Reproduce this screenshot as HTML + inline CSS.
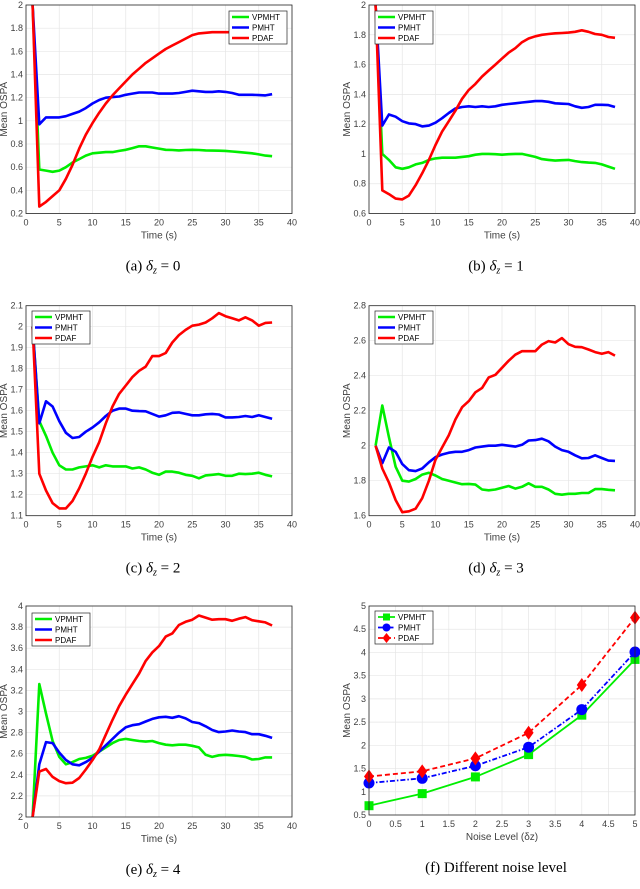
<!DOCTYPE html>
<html><head><meta charset="utf-8"><style>
body{margin:0;background:#fff}
svg{display:block}
text{font-family:"Liberation Sans",sans-serif}
.cap{font-family:"Liberation Serif",serif;font-size:15px;fill:#000}
</style></head><body>
<svg id="fig" width="640" height="889" viewBox="0 0 640 889" xmlns="http://www.w3.org/2000/svg"></svg>
<script>
const T=[1,2,3,4,5,6,7,8,9,10,11,12,13,14,15,16,17,18,19,20,21,22,23,24,25,26,27,28,29,30,31,32,33,34,35,36,37];
const aV=[2.0,0.58,0.57,0.56,0.57,0.6,0.64,0.67,0.7,0.72,0.725,0.73,0.73,0.74,0.75,0.765,0.78,0.78,0.77,0.76,0.75,0.748,0.745,0.748,0.75,0.748,0.745,0.743,0.742,0.74,0.735,0.73,0.725,0.72,0.71,0.70,0.695];
const aP=[2.0,0.97,1.03,1.03,1.03,1.04,1.06,1.08,1.11,1.15,1.18,1.2,1.205,1.21,1.225,1.235,1.245,1.245,1.245,1.235,1.235,1.235,1.24,1.25,1.26,1.255,1.25,1.25,1.255,1.25,1.24,1.225,1.225,1.225,1.222,1.22,1.23];
const aD=[2.0,0.26,0.3,0.35,0.4,0.5,0.62,0.76,0.88,0.98,1.07,1.15,1.22,1.28,1.34,1.4,1.45,1.5,1.54,1.58,1.62,1.65,1.68,1.71,1.74,1.755,1.76,1.765,1.765,1.765,1.765,1.765,1.767,1.768,1.769,1.77,1.77];
const bV=[2.0,1.0,0.96,0.91,0.9,0.91,0.93,0.94,0.96,0.97,0.975,0.975,0.975,0.98,0.985,0.995,1.0,1.0,0.998,0.995,0.998,1.0,1.0,0.99,0.98,0.965,0.96,0.955,0.958,0.96,0.952,0.945,0.942,0.94,0.93,0.915,0.9];
const bP=[2.0,1.19,1.265,1.25,1.22,1.205,1.2,1.185,1.19,1.21,1.24,1.275,1.305,1.315,1.32,1.315,1.32,1.315,1.32,1.33,1.335,1.34,1.345,1.35,1.355,1.355,1.35,1.34,1.337,1.335,1.32,1.31,1.315,1.33,1.33,1.328,1.315];
const bD=[2.0,0.755,0.73,0.7,0.695,0.72,0.79,0.87,0.96,1.06,1.15,1.22,1.29,1.37,1.43,1.47,1.52,1.56,1.6,1.64,1.68,1.71,1.75,1.775,1.79,1.8,1.805,1.81,1.812,1.815,1.82,1.83,1.82,1.805,1.8,1.785,1.78];
const cV=[2.0,1.55,1.48,1.4,1.34,1.32,1.32,1.33,1.335,1.34,1.33,1.34,1.335,1.335,1.335,1.325,1.33,1.32,1.305,1.295,1.31,1.31,1.305,1.295,1.29,1.278,1.292,1.295,1.298,1.29,1.29,1.3,1.298,1.3,1.305,1.295,1.287];
const cP=[2.0,1.54,1.645,1.62,1.55,1.495,1.47,1.475,1.5,1.52,1.545,1.575,1.6,1.61,1.61,1.6,1.598,1.597,1.585,1.572,1.578,1.59,1.592,1.585,1.578,1.578,1.583,1.585,1.582,1.568,1.568,1.57,1.575,1.57,1.578,1.57,1.562];
const cD=[2.0,1.3,1.22,1.16,1.135,1.135,1.17,1.23,1.3,1.38,1.45,1.54,1.62,1.68,1.72,1.76,1.79,1.81,1.86,1.86,1.875,1.925,1.96,1.985,2.005,2.01,2.02,2.04,2.065,2.05,2.04,2.03,2.045,2.03,2.005,2.018,2.02];
const dV=[2.0,2.23,2.05,1.88,1.8,1.795,1.81,1.835,1.845,1.83,1.81,1.8,1.79,1.78,1.782,1.778,1.75,1.745,1.75,1.76,1.77,1.755,1.765,1.785,1.765,1.765,1.75,1.725,1.72,1.725,1.725,1.73,1.73,1.752,1.752,1.748,1.745];
const dP=[2.0,1.9,1.99,1.965,1.895,1.86,1.855,1.87,1.905,1.935,1.95,1.96,1.965,1.965,1.975,1.99,1.995,2.0,2.0,2.005,2.0,1.995,2.005,2.03,2.032,2.04,2.025,1.995,1.975,1.965,1.945,1.928,1.93,1.945,1.93,1.915,1.913];
const dD=[2.0,1.87,1.79,1.69,1.62,1.625,1.64,1.7,1.8,1.92,1.99,2.06,2.15,2.22,2.255,2.305,2.33,2.39,2.405,2.445,2.485,2.52,2.54,2.54,2.54,2.578,2.598,2.59,2.615,2.58,2.565,2.563,2.55,2.535,2.525,2.535,2.515];
const eV=[2.0,3.26,2.98,2.72,2.57,2.5,2.52,2.55,2.56,2.58,2.62,2.66,2.7,2.73,2.74,2.73,2.72,2.715,2.72,2.7,2.685,2.68,2.685,2.685,2.675,2.66,2.59,2.57,2.585,2.59,2.585,2.578,2.57,2.545,2.55,2.565,2.565];
const eP=[2.0,2.5,2.71,2.7,2.61,2.54,2.5,2.49,2.52,2.56,2.62,2.68,2.74,2.8,2.85,2.87,2.88,2.905,2.93,2.945,2.95,2.94,2.955,2.935,2.9,2.89,2.86,2.825,2.805,2.81,2.82,2.81,2.805,2.785,2.785,2.77,2.75];
const eD=[2.0,2.43,2.455,2.38,2.34,2.32,2.325,2.37,2.45,2.54,2.64,2.78,2.92,3.05,3.16,3.26,3.36,3.48,3.56,3.62,3.71,3.74,3.82,3.85,3.87,3.91,3.89,3.87,3.875,3.875,3.86,3.88,3.895,3.865,3.855,3.845,3.815];
const fX=[0,1,2,3,4,5];
const fV=[0.7,0.96,1.32,1.8,2.65,3.85];
const fP=[1.19,1.29,1.56,1.96,2.77,4.01];
const fD=[1.33,1.44,1.72,2.27,3.3,4.75];
const names=["VPMHT","PMHT","PDAF"];

const NS="http://www.w3.org/2000/svg";
const svg=document.getElementById('fig');
function mk(tag,attrs,parent,txt){const e=document.createElementNS(NS,tag);for(const k in attrs)e.setAttribute(k,attrs[k]);if(txt!==undefined)e.textContent=txt;(parent||svg).appendChild(e);return e;}
function fmt(v){return String(+v.toFixed(2));}

function panel(id,L,R,Tp,B,xmin,xmax,xstep,ymin,ymax,ystep,series,xlab,cap,legX,legY,markers){
  const g=mk('g',{},svg);
  
  
  const sx=v=>L+(v-xmin)/(xmax-xmin)*(R-L);
  const sy=v=>B-(v-ymin)/(ymax-ymin)*(B-Tp);
  mk('rect',{x:L,y:Tp,width:R-L,height:B-Tp,fill:'#fff'},g);
  const nx=Math.round((xmax-xmin)/xstep), ny=Math.round((ymax-ymin)/ystep);
  for(let i=0;i<=nx;i++){const v=xmin+i*xstep,x=sx(v);
    mk('line',{x1:x,x2:x,y1:Tp,y2:B,stroke:'#e6e6e6','stroke-width':0.7},g);
    const t=mk('text',{x:x,y:B+12,'font-size':9,fill:'#404040','text-anchor':'middle'},g,fmt(v));
    }
  for(let i=0;i<=ny;i++){const v=ymin+i*ystep,y=sy(v);
    mk('line',{x1:L,x2:R,y1:y,y2:y,stroke:'#e6e6e6','stroke-width':0.7},g);
    const t=mk('text',{x:L-3,y:y+3,'font-size':9,fill:'#404040','text-anchor':'end'},g,fmt(v));
    }
  const cid='clip-'+id;
  const cp=mk('clipPath',{id:cid},g);mk('rect',{x:L,y:Tp,width:R-L,height:B-Tp},cp);
  const cols=['#00ee00','#0000ff','#ff0000'];
  const dash=markers?['','5,2,1.5,2','5,3']:['','',''];
  series.forEach((s,k)=>{
    const d=s.y.map((v,i)=>(i?'L':'M')+sx(s.x[i]).toFixed(1)+','+sy(v).toFixed(1)).join(' ');
    const p=mk('path',{d:d,fill:'none',stroke:cols[k],'stroke-width':markers?1.8:2.6,'stroke-linejoin':'round','stroke-dasharray':dash[k],'clip-path':'url(#'+cid+')'},g);
    
    
    if(markers){s.y.forEach((v,i)=>{const x=sx(s.x[i]),y=sy(v);let m;
      if(k==0)m=mk('rect',{x:x-4.5,y:y-4.5,width:9,height:9,fill:cols[k]},g);
      else if(k==1)m=mk('circle',{cx:x,cy:y,r:5.5,fill:cols[k]},g);
      else m=mk('path',{d:`M${x},${y-7}L${x+5},${y}L${x},${y+7}L${x-5},${y}Z`,fill:cols[k]},g);
      
      });}
  });
  mk('rect',{x:L,y:Tp,width:R-L,height:B-Tp,fill:'none',stroke:'#262626','stroke-width':0.8},g);
  const lg=mk('g',{},g);
  
  
  mk('rect',{x:legX,y:legY,width:58,height:33,fill:'#fff',stroke:'#262626','stroke-width':0.7},lg);
  names.forEach((n,k)=>{const y=legY+6+k*10.5;
    mk('line',{x1:legX+3,x2:legX+20,y1:y,y2:y,stroke:cols[k],'stroke-width':markers?1.8:2.6,'stroke-dasharray':dash[k]},lg);
    if(markers){const x=legX+11.5;
      if(k==0)mk('rect',{x:x-3.5,y:y-3.5,width:7,height:7,fill:cols[k]},lg);
      else if(k==1)mk('circle',{cx:x,cy:y,r:4,fill:cols[k]},lg);
      else mk('path',{d:`M${x},${y-5}L${x+4},${y}L${x},${y+5}L${x-4},${y}Z`,fill:cols[k]},lg);}
    const t=mk('text',{x:legX+23,y:y+3,'font-size':8,fill:'#000'},lg,n);
    });
  const xl=mk('text',{x:(L+R)/2,y:B+25,'font-size':10,fill:'#404040','text-anchor':'middle'},g,xlab);
  
  const yx=L-19, yy=(Tp+B)/2;
  const yl=mk('text',{x:yx,y:yy,'font-size':10,fill:'#404040','text-anchor':'middle',transform:`rotate(-90 ${yx} ${yy})`},g,'Mean OSPA');
  
  const c=mk('text',{x:(L+R)/2-6,y:B+57,'class':'cap','text-anchor':'middle'},g);
  c.innerHTML=cap;
  
}
function S(a,b,c,x){x=x||T;return [{x:x,y:a},{x:x,y:b},{x:x,y:c}];}
const dz='<tspan font-style="italic">δ</tspan><tspan font-style="italic" font-size="10" dy="3">z</tspan><tspan dy="-3"> = ';
panel('panel-a',26,292,5,213.5,0,40,5,0.2,2,0.2,S(aV,aP,aD),'Time (s)','(a) '+dz+'0</tspan>',229,11,false);
panel('panel-b',369,635,5,213.5,0,40,5,0.6,2,0.2,S(bV,bP,bD),'Time (s)','(b) '+dz+'1</tspan>',375,11,false);
panel('panel-c',26,292,305.7,515.7,0,40,5,1.1,2.1,0.1,S(cV,cP,cD),'Time (s)','(c) '+dz+'2</tspan>',32,311,false);
panel('panel-d',369,635,305.7,515.7,0,40,5,1.6,2.8,0.2,S(dV,dP,dD),'Time (s)','(d) '+dz+'3</tspan>',375,311,false);
panel('panel-e',26,292,606,817,0,40,5,2,4,0.2,S(eV,eP,eD),'Time (s)','(e) '+dz+'4</tspan>',32,613,false);
panel('panel-f',369,635,606,815,0,5,0.5,0.5,5,0.5,S(fV,fP,fD,fX),'Noise Level (δz)','(f) Different noise level',375,611,true);
</script>
</body></html>
